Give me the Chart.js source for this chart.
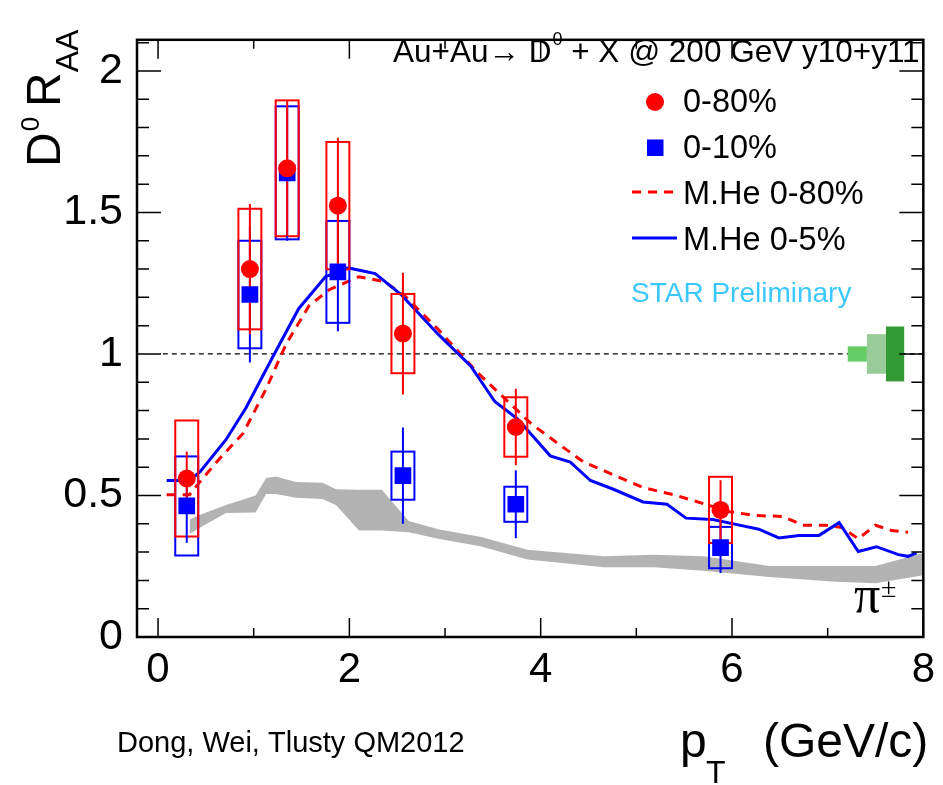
<!DOCTYPE html>
<html><head><meta charset="utf-8">
<script src="https://cdn.jsdelivr.net/npm/chart.js@4"></script>
<style>html,body{margin:0;padding:0;background:#fff;overflow:hidden}#c{display:block}</style>
</head><body>
<canvas id="c" width="943" height="785"></canvas>
<script>
// ---------------- data ----------------
const ptBins   = [0.30, 0.96, 1.35, 1.88, 2.56, 3.74, 5.88];
const raa080   = [0.56, 1.30, 1.656, 1.524, 1.072, 0.742, 0.449];
const stat080  = [0.095, 0.23, 0.24, 0.24, 0.215, 0.135, 0.105];
const sys080   = [0.205, 0.213, 0.24, 0.225, 0.14, 0.105, 0.117];
const raa010   = [0.463, 1.21, 1.64, 1.29, 0.57, 0.469, 0.316];
const stat010  = [0.13, 0.24, 0.24, 0.21, 0.17, 0.12, 0.09];
const sys010   = [0.175, 0.19, 0.235, 0.18, 0.085, 0.062, 0.073];
const sysBoxHalfWidth = 0.12;

const he080X = [0.09,0.33,0.42,0.64,0.89,1.13,1.34,1.58,1.79,2.10,2.37,2.58,2.93,3.34,3.62,3.90,4.17,4.45,4.76,5.07,5.42,5.70,5.97,6.25,6.53,6.74,6.98,7.15,7.32,7.50,7.67,7.84];
const he080Y = [0.503,0.503,0.541,0.629,0.72,0.877,1.036,1.171,1.227,1.273,1.255,1.205,1.086,0.934,0.844,0.754,0.686,0.618,0.573,0.528,0.5,0.471,0.443,0.429,0.426,0.395,0.395,0.387,0.347,0.395,0.376,0.37];

const he05X = [0.09,0.33,0.44,0.71,0.92,1.20,1.47,1.75,1.99,2.27,2.54,2.93,3.27,3.52,3.76,4.10,4.31,4.52,4.76,5.07,5.32,5.52,5.80,6.04,6.28,6.49,6.70,6.91,7.12,7.32,7.51,7.74,7.84,7.93];
const he05Y = [0.553,0.553,0.584,0.697,0.81,0.99,1.16,1.273,1.304,1.284,1.21,1.069,0.957,0.832,0.77,0.64,0.618,0.553,0.522,0.477,0.469,0.42,0.415,0.398,0.381,0.35,0.359,0.359,0.404,0.302,0.319,0.291,0.285,0.297];

const pionX  = [0.33,0.44,0.71,1.02,1.13,1.23,1.44,1.72,1.86,2.10,2.34,2.62,2.93,3.38,3.86,4.66,5.18,5.70,6.39,7.08,7.50,8.0];
const pionHi = [0.415,0.432,0.466,0.50,0.562,0.567,0.548,0.545,0.522,0.52,0.52,0.41,0.381,0.353,0.308,0.285,0.291,0.285,0.251,0.251,0.251,0.297];
const pionLo = [0.364,0.387,0.438,0.44,0.505,0.505,0.492,0.488,0.466,0.376,0.376,0.37,0.347,0.32,0.274,0.246,0.246,0.234,0.212,0.195,0.19,0.218];

const normEdges = [7.21, 7.41, 7.61, 7.80];
const normErr   = [0.027, 0.07, 0.097];
const unityLine = [0.05, 8];

const xMajorTicks = [0, 2, 4, 6, 8];
const xMinorTicks = [1, 3, 5, 7];
const yMajorTicks = [0, 0.5, 1, 1.5, 2];
const yMinorTicks = [0.1,0.2,0.3,0.4,0.6,0.7,0.8,0.9,1.1,1.2,1.3,1.4,1.6,1.7,1.8,1.9,2.1];

// ---------------- styling ----------------
const FONT = '"Liberation Sans", Arial, Helvetica, sans-serif';
const RED = '#ff0000', BLUE = '#0000ff', GRAY = '#b3b3b3';
const normColors = ['#66cc66', '#99cc99', '#339933'];

const pts = (xs, ys) => xs.map((v, i) => ({x: v, y: ys[i]}));

function txt(ctx, s, x, y, size, color, family) {
  ctx.font = size + 'px ' + (family || FONT);
  ctx.fillStyle = color || '#000';
  ctx.textAlign = 'left';
  ctx.textBaseline = 'alphabetic';
  ctx.fillText(s, x, y);
  return ctx.measureText(s).width;
}

const decor = {
  id: 'decor',
  beforeDatasetDraw(chart, args) {
    const ctx = chart.ctx, xs = chart.scales.x, ys = chart.scales.y;
    if (args.index === 2) {
      ctx.save();
      ctx.strokeStyle = '#000'; ctx.lineWidth = 1.3; ctx.setLineDash([5, 4]);
      ctx.beginPath();
      ctx.moveTo(xs.getPixelForValue(unityLine[0]), ys.getPixelForValue(1));
      ctx.lineTo(xs.getPixelForValue(unityLine[1]), ys.getPixelForValue(1));
      ctx.stroke();
      ctx.restore();
      for (let i = 0; i < normErr.length; i++) {
        const x0 = xs.getPixelForValue(normEdges[i]), x1 = xs.getPixelForValue(normEdges[i + 1]);
        const y0 = ys.getPixelForValue(1 + normErr[i]), y1 = ys.getPixelForValue(1 - normErr[i]);
        ctx.fillStyle = normColors[i];
        ctx.fillRect(x0, y0, x1 - x0, y1 - y0);
      }
    }
    if (args.index === 4) {
      ctx.save();
      ctx.lineWidth = 2;
      const boxes = (vals, sys, col) => {
        ctx.strokeStyle = col;
        ptBins.forEach((p, i) => {
          const x0 = xs.getPixelForValue(p - sysBoxHalfWidth), x1 = xs.getPixelForValue(p + sysBoxHalfWidth);
          const y0 = ys.getPixelForValue(vals[i] + sys[i]), y1 = ys.getPixelForValue(vals[i] - sys[i]);
          ctx.strokeRect(x0, y0, x1 - x0, y1 - y0);
        });
      };
      const bars = (vals, err, col) => {
        ctx.strokeStyle = col;
        ptBins.forEach((p, i) => {
          const px = xs.getPixelForValue(p);
          ctx.beginPath();
          ctx.moveTo(px, ys.getPixelForValue(vals[i] + err[i]));
          ctx.lineTo(px, ys.getPixelForValue(vals[i] - err[i]));
          ctx.stroke();
        });
      };
      boxes(raa010, sys010, BLUE);
      boxes(raa080, sys080, RED);
      bars(raa010, stat010, BLUE);
      bars(raa080, stat080, RED);
      ctx.restore();
    }
  },
  afterDraw(chart) {
    const ctx = chart.ctx, xs = chart.scales.x, ys = chart.scales.y, a = chart.chartArea;
    ctx.save();
    ctx.strokeStyle = '#000'; ctx.lineWidth = 1.5;
    ctx.beginPath();
    const xt = (v, len) => { const p = xs.getPixelForValue(v);
      ctx.moveTo(p, a.bottom); ctx.lineTo(p, a.bottom - len);
      ctx.moveTo(p, a.top); ctx.lineTo(p, a.top + len); };
    const yt = (v, len) => { const p = ys.getPixelForValue(v);
      ctx.moveTo(a.left, p); ctx.lineTo(a.left + len, p);
      ctx.moveTo(a.right, p); ctx.lineTo(a.right - len, p); };
    xMajorTicks.forEach(v => xt(v, 19));
    xMinorTicks.forEach(v => xt(v, 9));
    yMajorTicks.forEach(v => yt(v, 24));
    yMinorTicks.forEach(v => yt(v, 12));
    ctx.stroke();
    ctx.lineWidth = 2.5;
    ctx.strokeRect(a.left, a.top, a.right - a.left, a.bottom - a.top);

    // title
    let x = 393;
    x += txt(ctx, 'Au+Au\u2192 D', x, 62, 31.5);
    x += txt(ctx, '0', x + 1, 45, 18) + 1;
    txt(ctx, ' + X @ 200 GeV y10+y11', x, 62, 31.5);

    // legend
    ctx.fillStyle = RED;
    ctx.beginPath(); ctx.arc(655, 102, 9, 0, Math.PI * 2); ctx.fill();
    ctx.fillStyle = BLUE;
    ctx.fillRect(647, 139.5, 16.5, 16.5);
    ctx.lineWidth = 3;
    ctx.strokeStyle = RED; ctx.setLineDash([9, 7]);
    ctx.beginPath(); ctx.moveTo(632, 192); ctx.lineTo(677, 192); ctx.stroke();
    ctx.setLineDash([]);
    ctx.strokeStyle = BLUE;
    ctx.beginPath(); ctx.moveTo(632, 238); ctx.lineTo(677, 238); ctx.stroke();
    txt(ctx, '0-80%', 683, 112, 32.5);
    txt(ctx, '0-10%', 683, 158, 32.5);
    txt(ctx, 'M.He 0-80%', 683, 204, 32.5);
    txt(ctx, 'M.He 0-5%', 683, 250, 32.5);

    txt(ctx, 'STAR Preliminary', 631, 302, 28, '#3cc8ff');

    // pion label
    txt(ctx, '\u03c0', 854, 612, 52, '#000', '"Liberation Serif", "Times New Roman", serif');
    txt(ctx, '\u00b1', 881, 597, 28, '#000', '"Liberation Serif", "Times New Roman", serif');

    // x axis title
    txt(ctx, 'p', 680, 757, 48);
    txt(ctx, 'T', 706, 783, 32);
    txt(ctx, '(GeV/c)', 763, 757, 48);

    // credit
    txt(ctx, 'Dong, Wei, Tlusty QM2012', 117, 752, 29);

    // y axis title (rotated)
    ctx.translate(60, 167);
    ctx.rotate(-Math.PI / 2);
    let t = 0;
    t += txt(ctx, 'D', t, 0, 48);
    txt(ctx, '0', t + 1, -21, 26);
    t = 60;
    t += txt(ctx, 'R', t, 0, 48);
    txt(ctx, 'AA', t, 18, 32);
    ctx.restore();
  }
};

new Chart(document.getElementById('c'), {
  type: 'line',
  data: {
    datasets: [
      { label: 'pion hi', data: pts(pionX, pionHi), borderWidth: 0, borderColor: GRAY, backgroundColor: GRAY,
        pointRadius: 0, fill: '+1', order: 10 },
      { label: 'pion lo', data: pts(pionX, pionLo), borderWidth: 0, borderColor: GRAY, backgroundColor: GRAY,
        pointRadius: 0, fill: false, order: 10 },
      { label: 'M.He 0-80%', data: pts(he080X, he080Y), borderColor: RED, borderWidth: 3, borderDash: [9, 7],
        pointRadius: 0, fill: false, order: 6 },
      { label: 'M.He 0-5%', data: pts(he05X, he05Y), borderColor: BLUE, borderWidth: 3,
        pointRadius: 0, fill: false, order: 5 },
      { label: '0-10%', data: pts(ptBins, raa010), showLine: false, pointStyle: 'rect', pointRadius: 11.8,
        pointBackgroundColor: BLUE, pointBorderWidth: 0, order: 2 },
      { label: '0-80%', data: pts(ptBins, raa080), showLine: false, pointStyle: 'circle', pointRadius: 9,
        pointBackgroundColor: RED, pointBorderWidth: 0, order: 1 }
    ]
  },
  options: {
    responsive: false,
    animation: false,
    devicePixelRatio: 1,
    layout: { padding: { left: 0, right: 13, top: 12, bottom: 0 } },
    plugins: { legend: { display: false }, tooltip: { enabled: false } },
    elements: { line: { tension: 0 } },
    scales: {
      x: {
        type: 'linear', min: -0.22, max: 8,
        grid: { display: false, drawTicks: false }, border: { display: false },
        ticks: { stepSize: 2, includeBounds: false, padding: 8, color: '#000', maxRotation: 0,
                 font: { family: FONT, size: 42 }, callback: v => String(v) },
        afterFit: s => { s.height = 148; }
      },
      y: {
        type: 'linear', min: 0, max: 2.11,
        grid: { display: false, drawTicks: false }, border: { display: false },
        ticks: { stepSize: 0.5, includeBounds: false, padding: 14, color: '#000',
                 font: { family: FONT, size: 43 }, callback: v => String(v) },
        afterFit: s => { s.width = 137; }
      }
    }
  },
  plugins: [decor]
});
</script>
</body></html>
